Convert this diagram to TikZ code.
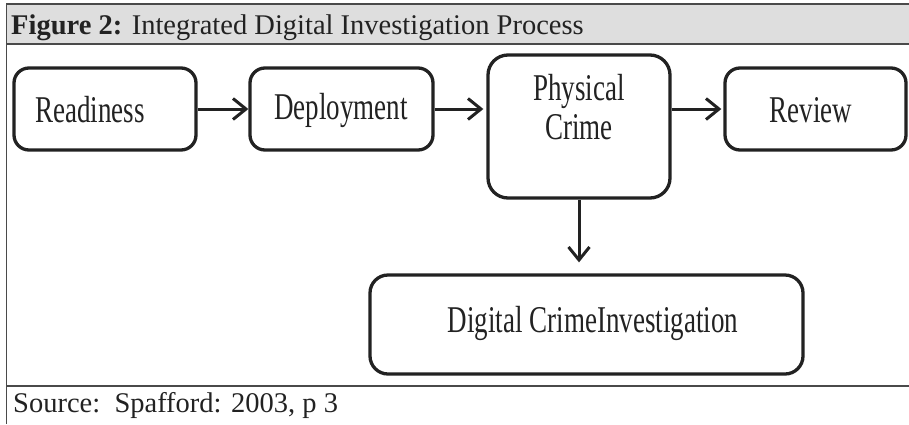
\documentclass[tikz,border=0pt]{standalone}
\usepackage{fontspec}
\setmainfont{Liberation Serif}
\usetikzlibrary{arrows.meta}
\definecolor{bandgray}{HTML}{DEDEDE}
\definecolor{framegray}{HTML}{4A4A4A}
\definecolor{ink}{HTML}{222222}
\newcommand{\tallbox}[1]{\scalebox{1}[1.4]{#1}}
\begin{document}
\begin{tikzpicture}[x=1pt,y=-1pt,
  procbox/.style={draw=ink, line width=3.3pt, rounded corners=15pt, inner sep=0pt},
  boxtext/.style={inner sep=0pt, text=ink, font=\fontsize{27}{28}\selectfont, align=center},
  flow/.style={draw=ink, line width=3pt, -{Straight Barb[length=13pt,width=21pt,line width=3pt]}},
  frame/.style={draw=framegray, line width=1.5pt},
  captext/.style={anchor=base west, inner sep=0pt, text=ink, font=\fontsize{28.5}{30}\selectfont}]
\useasboundingbox (0,0) rectangle (909,424);
% frame
\fill[bandgray] (6.5,4) rectangle (909,44);
\draw[frame] (909,4) -- (6.5,4) -- (6.5,424);
\draw[frame] (6.5,44) -- (909,44);
\draw[frame] (6.5,386) -- (909,386);
\node[captext] (title) at (11,34) {\textbf{Figure 2:} Integrated Digital Investigation Process};
\node[captext] (source) at (13,412) {Source:\ \ Spafford: 2003, p 3};
% boxes
\node[procbox, minimum width=182pt, minimum height=82pt] (ready) at (105,109) {};
\node[procbox, minimum width=183pt, minimum height=82pt] (deploy) at (341.5,109) {};
\node[procbox, minimum width=182pt, minimum height=143pt, rounded corners=20pt] (phys) at (579,126.5) {};
\node[procbox, minimum width=181pt, minimum height=82pt] (review) at (815.5,109) {};
\node[procbox, minimum width=433pt, minimum height=99pt, rounded corners=18pt] (digital) at (586.5,324.5) {};
% texts
\node[boxtext] (readyt) at (90,110) {\tallbox{Readiness}};
\node[boxtext] (deployt) at (341,110) {\tallbox{Deployment}};
\node[boxtext] (physt) at (579,112) {\tallbox{\begin{tabular}{@{}c@{}}Physical\\Crime\end{tabular}}};
\node[boxtext] (reviewt) at (811,110) {\tallbox{Review}};
\node[boxtext] (digitalt) at (593,323) {\tallbox{Digital CrimeInvestigation}};
% connectors
\draw[flow] (ready.east) -- (deploy.west);
\draw[flow, shorten >=3pt] (deploy.east) -- (deploy.east -| phys.west);
\draw[flow, shorten >=2pt] (phys.east |- review.west) -- (review.west);
\draw[flow, shorten >=11pt] (phys.south) -- (phys.south |- digital.north);
\end{tikzpicture}
\end{document}
